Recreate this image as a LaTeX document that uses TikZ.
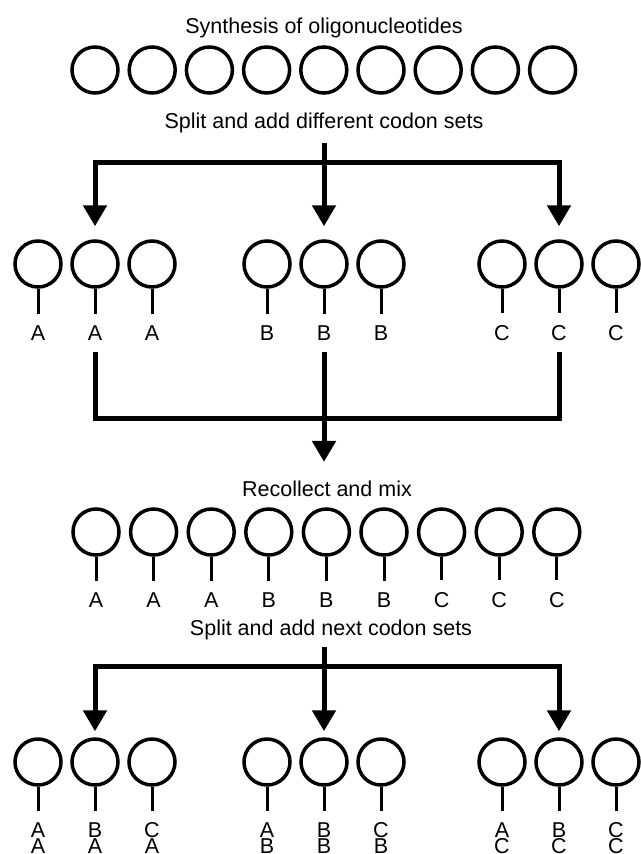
\documentclass[tikz,border=0pt]{standalone}
\usepackage{fontspec}
\setmainfont{Liberation Sans}
\usetikzlibrary{arrows.meta,positioning}

\begin{document}
\begin{tikzpicture}[x=1pt,y=-1pt,>={Triangle[width=23pt,length=21pt]},font=\fontsize{21.5}{16}\selectfont]
\tikzstyle{bead} = [circle,draw=black,line width=3.5pt,minimum size=46pt,inner sep=0pt]
\tikzstyle{tag} = [inner sep=0pt,align=center]
\tikzstyle{stem} = [line width=3pt,shorten >=11.5pt]
\tikzstyle{flow} = [line width=5pt]
\useasboundingbox (0,0) rectangle (640,854);

    % synthesis
    \node (synth) at (324,33) [anchor=base] {Synthesis of oligonucleotides};
    \foreach \i in {1,...,9}
      \node[bead] (s\i) at ({95+57.2*(\i-1)},70) {};
    \node (split) at (324,128) [anchor=base] {Split and add different codon sets};

    % first split
    \foreach \x/\l [count=\i] in {38/A,95/A,152/A,267/B,324/B,381/B,502/C,559/C,616/C} {
      \node[bead] (p\i) at (\x,264) {};
      \node[tag,anchor=base] (lp\i) at (\x,340) {\l};
      \draw[stem] (p\i) -- (lp\i);
    }
    \coordinate (fork1) at (324,162);
    \draw[flow,->,shorten <=7pt,shorten >=13pt] (split) -- (p5);
    \draw[flow,->,shorten >=13pt] (fork1) -| (p2);
    \draw[flow,->,shorten >=13pt] (fork1) -| (p8);

    % recollect
    \node (mix) at (327,496) [anchor=base] {Recollect and mix};
    \coordinate (join) at (324,418);
    \draw[flow,shorten <=12pt,shorten >=12pt] (lp2) |- (join) -| (lp8);
    \draw[flow,->,shorten <=12pt,shorten >=15pt] (lp5) -- (lp5 |- mix.north);
    \foreach \l [count=\i] in {A,A,A,B,B,B,C,C,C} {
      \node[bead] (m\i) at ({96+57.6*(\i-1)},532) {};
      \node[tag,anchor=base] (lm\i) at ({96+57.6*(\i-1)},607) {\l};
      \draw[stem] (m\i) -- (lm\i);
    }

    % second split
    \node (split2) at (331,635) [anchor=base] {Split and add next codon sets};
    \foreach \x/\u/\v [count=\i] in {38/A/A,95/B/A,152/C/A,267/A/B,324/B/B,381/C/B,502/A/C,559/B/C,616/C/C} {
      \node[bead] (q\i) at (\x,762) {};
      \node[tag,anchor=north] (lq\i) at (\x,822) {\u\\\v};
      \draw[stem] (q\i) -- (lq\i);
    }
    \coordinate (fork2) at (324,666);
    \draw[flow,->,shorten <=4pt,shorten >=6pt] (split2.south -| q5) -- (q5);
    \draw[flow,->,shorten >=6pt] (fork2) -| (q2);
    \draw[flow,->,shorten >=6pt] (fork2) -| (q8);

\end{tikzpicture}
\end{document}
